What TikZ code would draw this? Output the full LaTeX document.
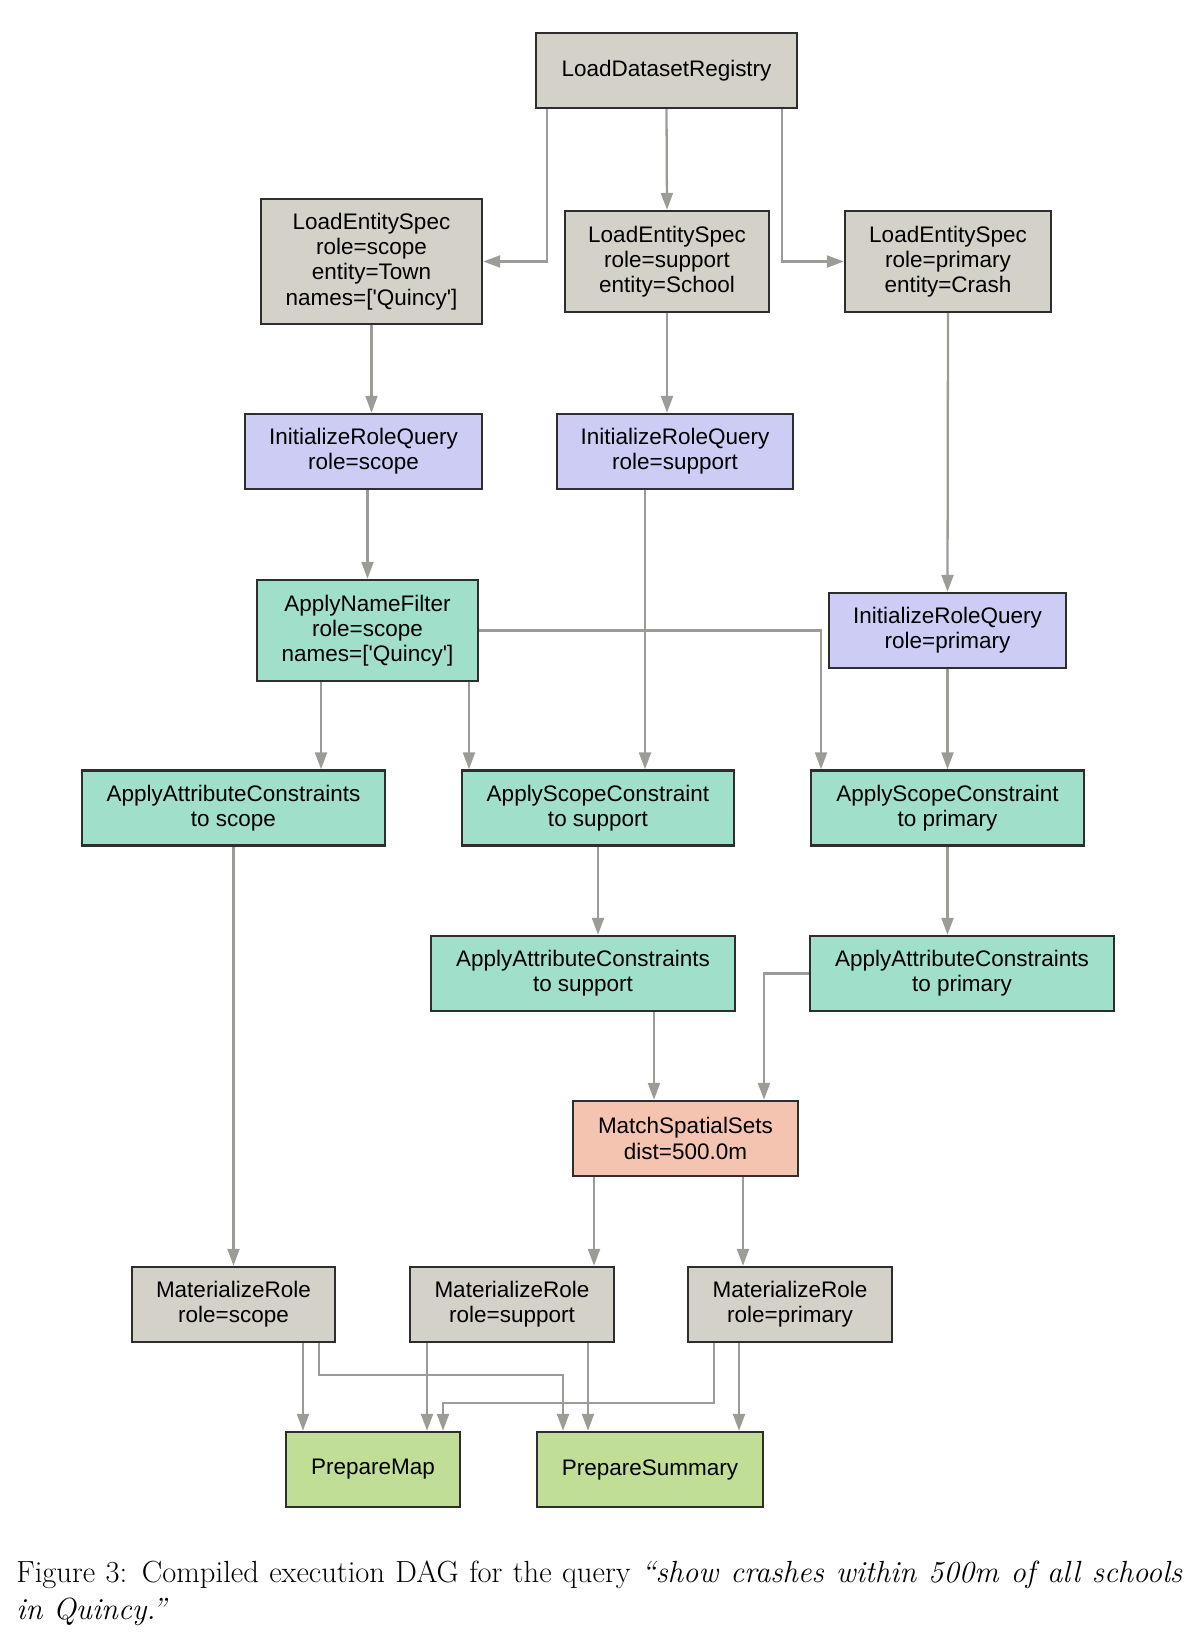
\documentclass[tikz,border=0pt]{standalone}
\usepackage{fontspec}
\usepackage{tikz}
\usetikzlibrary{arrows.meta}

\newfontfamily\dagfont{Liberation Sans}
\newcommand{\squote}{\textquotesingle}

\definecolor{boxline}{RGB}{46,46,46}
\definecolor{edgegray}{RGB}{156,156,150}
\definecolor{loadgray}{RGB}{212,209,200}
\definecolor{initblue}{RGB}{204,204,245}
\definecolor{applygreen}{RGB}{160,224,203}
\definecolor{matchred}{RGB}{245,196,176}
\definecolor{prepgreen}{RGB}{192,222,150}

\begin{document}
\begin{tikzpicture}[x=0.02cm,y=-0.02cm,
        box/.style={draw=boxline,line width=1.4pt,rectangle,inner sep=0pt,align=center,
                    font=\dagfont\fontsize{12.8}{14.3}\selectfont,minimum height=1.5cm},
        loadbox/.style={box,fill=loadgray},
        initbox/.style={box,fill=initblue},
        applybox/.style={box,fill=applygreen},
        matchbox/.style={box,fill=matchred},
        prepbox/.style={box,fill=prepgreen},
        edge/.style={draw=edgegray,line width=1.3pt,-{Triangle[length=0.34cm,width=0.24cm]}},
        caption/.style={inner sep=0pt,text width=23.32cm,align=justify,
                        font=\fontsize{17.4}{20.9}\selectfont}]
    \useasboundingbox (0,0) rectangle (1197,1639);

    % registry and entity specs
    \node[loadbox,minimum width=5.22cm] (reg) at (666.5,70.5) {LoadDatasetRegistry};
    \node[loadbox,minimum width=4.42cm,minimum height=2.5cm] (les_scope) at (371.5,261.5)
        {LoadEntitySpec\\role=scope\\entity=Town\\names=[\squote Quincy\squote]};
    \node[loadbox,minimum width=4.08cm,minimum height=2.02cm] (les_support) at (667,261.5)
        {LoadEntitySpec\\role=support\\entity=School};
    \node[loadbox,minimum width=4.12cm,minimum height=2.02cm] (les_primary) at (948,261.5)
        {LoadEntitySpec\\role=primary\\entity=Crash};

    % role queries
    \node[initbox,minimum width=4.74cm] (irq_scope) at (363.5,451.5) {InitializeRoleQuery\\role=scope};
    \node[initbox,minimum width=4.72cm] (irq_support) at (675,451.5) {InitializeRoleQuery\\role=support};
    \node[initbox,minimum width=4.74cm] (irq_primary) at (947.5,630.5) {InitializeRoleQuery\\role=primary};
    \node[applybox,minimum width=4.42cm,minimum height=2.02cm] (anf) at (367.5,630.5)
        {ApplyNameFilter\\role=scope\\names=[\squote Quincy\squote]};

    % constraints
    \node[applybox,minimum width=6.06cm] (aac_scope) at (233.5,808) {ApplyAttributeConstraints\\to scope};
    \node[applybox,minimum width=5.44cm] (asc_support) at (598,808) {ApplyScopeConstraint\\to support};
    \node[applybox,minimum width=5.46cm] (asc_primary) at (947.5,808) {ApplyScopeConstraint\\to primary};
    \node[applybox,minimum width=6.08cm] (aac_support) at (583,973.5) {ApplyAttributeConstraints\\to support};
    \node[applybox,minimum width=6.08cm] (aac_primary) at (962,973.5) {ApplyAttributeConstraints\\to primary};

    \node[matchbox,minimum width=4.5cm] (msp) at (685.5,1138.5) {MatchSpatialSets\\dist=500.0m};

    % outputs
    \node[loadbox,minimum width=4.06cm] (mr_scope) at (233.5,1304.5) {MaterializeRole\\role=scope};
    \node[loadbox,minimum width=4.08cm] (mr_support) at (512,1304.5) {MaterializeRole\\role=support};
    \node[loadbox,minimum width=4.08cm] (mr_primary) at (790,1304.5) {MaterializeRole\\role=primary};
    \node[prepbox,minimum width=3.48cm] (pmap) at (373,1469.5) {PrepareMap};
    \node[prepbox,minimum width=4.52cm] (psum) at (650,1469.5) {PrepareSummary};

    \draw[edge] ([xshift=-2.39cm]reg.south) |- (les_scope.east);
    \draw[edge] (reg.south) -- (les_support.north);
    \draw[edge] ([xshift=2.31cm]reg.south) |- (les_primary.west);
    \draw[edge] (les_scope.south) -- (les_scope.south |- irq_scope.north);
    \draw[edge] (les_support.south) -- (les_support.south |- irq_support.north);
    \draw[edge] (les_primary.south) -- (irq_primary.north);
    \draw[edge] (irq_scope.south -| anf.north) -- (anf.north);
    \draw[edge] ([xshift=-0.6cm]irq_support.south) -- ([xshift=-0.6cm]irq_support.south |- asc_support.north);
    \draw[edge] (irq_primary.south) -- (asc_primary.north);
    \draw[edge] ([xshift=-0.93cm]anf.south) -- ([xshift=-0.93cm]anf.south |- aac_scope.north);
    \draw[edge] ([xshift=2.03cm]anf.south) -- ([xshift=2.03cm]anf.south |- asc_support.north);
    \draw[edge] (anf.east) -| ([xshift=-2.53cm]asc_primary.north);
    \draw[edge] (aac_scope.south) -- (mr_scope.north);
    \draw[edge] (asc_support.south) -- (asc_support.south |- aac_support.north);
    \draw[edge] (asc_primary.south) -- (asc_primary.south |- aac_primary.north);
    \draw[edge] ([xshift=1.42cm]aac_support.south) -- ([xshift=1.42cm]aac_support.south |- msp.north);
    \draw[edge] (aac_primary.west) -| ([xshift=1.57cm]msp.north);
    \draw[edge] ([xshift=-1.83cm]msp.south) -- ([xshift=-1.83cm]msp.south |- mr_support.north);
    \draw[edge] ([xshift=1.15cm]msp.south) -- ([xshift=1.15cm]msp.south |- mr_primary.north);
    \draw[edge] ([xshift=1.39cm]mr_scope.south) -- ([xshift=1.39cm]mr_scope.south |- pmap.north);
    \draw[edge] ([xshift=1.71cm]mr_scope.south) -- ++(0,32) -| ([xshift=-1.74cm]psum.north);
    \draw[edge] ([xshift=-1.7cm]mr_support.south) -- ([xshift=-1.7cm]mr_support.south |- pmap.north);
    \draw[edge] ([xshift=1.52cm]mr_support.south) -- ([xshift=1.52cm]mr_support.south |- psum.north);
    \draw[edge] ([xshift=-1.52cm]mr_primary.south) -- ++(0,60) -| ([xshift=1.4cm]pmap.north);
    \draw[edge] ([xshift=-1.02cm]mr_primary.south) -- ([xshift=-1.02cm]mr_primary.south |- psum.north);

    \node[caption,anchor=north west] (cap) at (16,1561)
        {Figure 3: Compiled execution DAG for the query \textit{``show crashes within 500m of all schools\linebreak in Quincy.''}};
\end{tikzpicture}
\end{document}
